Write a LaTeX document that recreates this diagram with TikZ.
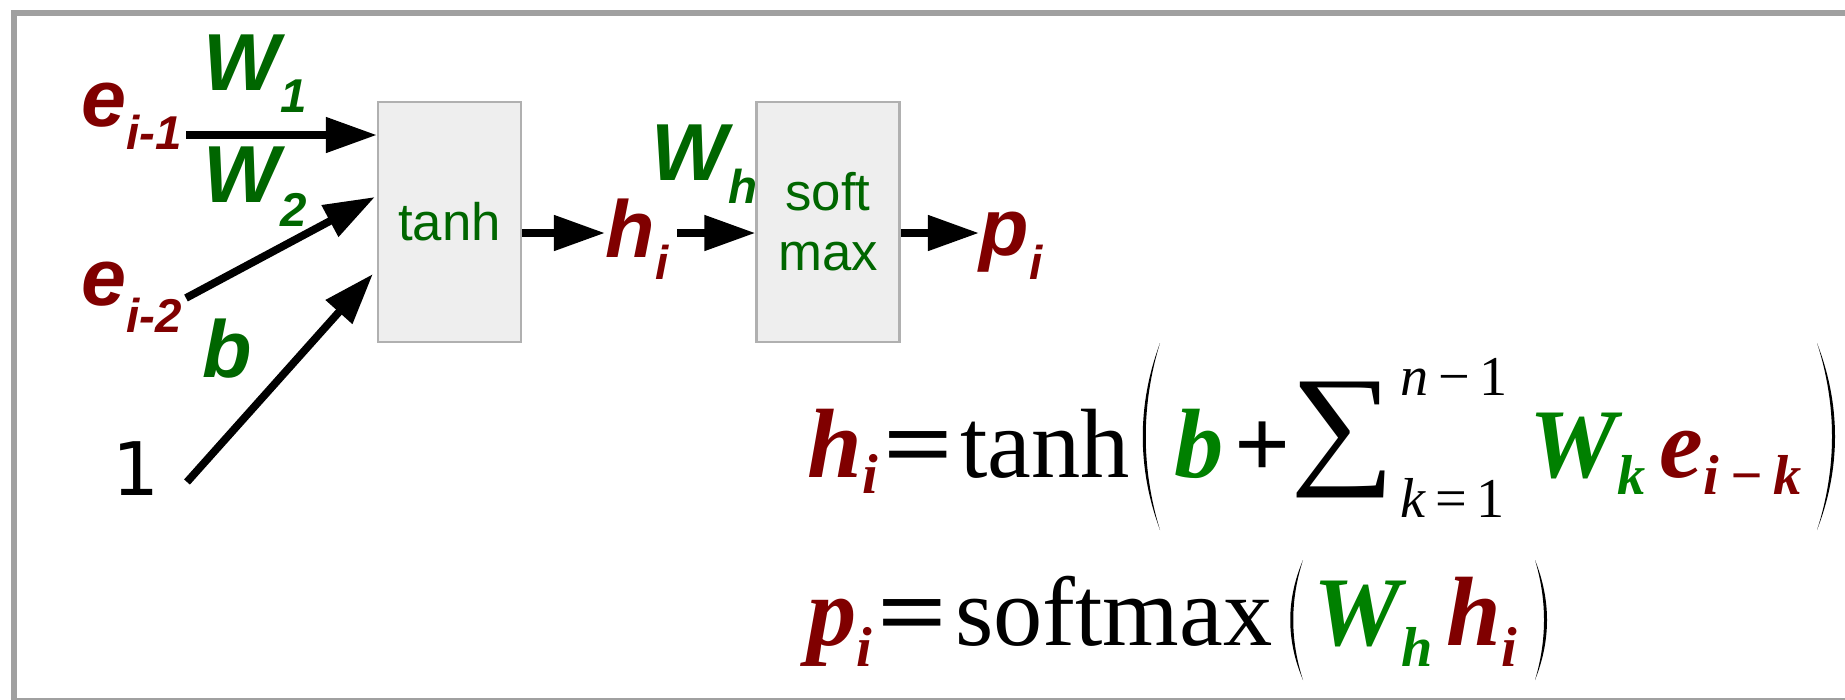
\documentclass[tikz,border=0pt]{standalone}
\usepackage{fontspec}
\usepackage{graphicx}
\setmainfont{Liberation Sans}
\newfontfamily\eqfont{Liberation Serif}
\newfontfamily\onefont{DejaVu Sans}
\usetikzlibrary{arrows.meta, calc}
\definecolor{ered}{HTML}{800000}
\definecolor{wgreen}{HTML}{006600}
\definecolor{mgreen}{HTML}{008000}
\definecolor{boxfill}{HTML}{EEEEEE}
\definecolor{boxline}{HTML}{B0B0B0}
\definecolor{framegray}{HTML}{A0A0A0}
\newcommand{\lo}[2]{\raisebox{-#1}{\fontsize{13.5}{13.5}\selectfont #2}}
\newcommand{\ebf}[2]{\textcolor{#1}{\bfseries\itshape #2}}
\newcommand{\esub}[2]{\raisebox{-#1}{\fontsize{16}{16}\selectfont #2}}
\newcommand{\eqsign}{\hspace{1.5pt}\scalebox{1.25}[1]{\bfseries =}\hspace{2pt}}
\tikzset{
    block/.style={rectangle, draw=boxline, fill=boxfill, line width=0.6pt,
                  minimum width=1.43cm, minimum height=2.4cm, inner sep=0pt,
                  align=center, text=wgreen, font=\fontsize{15}{17}\selectfont},
    var/.style={inner sep=0pt, anchor=base west, text=ered,
                font=\fontsize{23}{23}\selectfont\bfseries\itshape},
    weight/.style={var, text=wgreen},
    flow/.style={-{Triangle[length=5.1mm, width=3.4mm]}, line width=2.2pt},
    eq/.style={inner sep=0pt, anchor=base west,
               font=\eqfont\fontsize{28}{33}\selectfont},
    lim/.style={eq, font=\eqfont\fontsize{16}{16}\selectfont},
    paren/.style={fill=black},
    frame/.style={draw=framegray, line width=1.7pt}
}

\begin{document}
\begin{tikzpicture}[x=0.01cm, y=-0.01cm]
    \useasboundingbox (0,0) rectangle (1845,699);
    \draw[frame] (14,13) rectangle (1900,701);

    \node[block] (tanh) at (449.5,222) {tanh};
    \node[block] (smax) at (828,222) {soft\\max};

    \node[var] (ei1) at (81,126) {e\lo{6.8pt}{i-1}};
    \node[var] (ei2) at (81,305) {e\lo{7.7pt}{i-2}};
    \node[inner sep=0pt, anchor=base west, font=\onefont\fontsize{21}{21}\selectfont] (one) at (112,495) {1};
    \node[weight] (w1) at (203,90) {W\lo{6.5pt}{1}};
    \node[weight] (w2) at (203,202) {W\lo{7.1pt}{2}};
    \node[weight] (bias) at (202,377) {b};
    \node[var] (hi) at (605,257) {h\lo{6.5pt}{i}};
    \node[weight] (wh) at (651,180) {W\lo{6.8pt}{h}};
    \node[var] (pi) at (979,255) {p\lo{7pt}{i}};

    \coordinate (axis) at (0,233);
    \coordinate (s1) at (186,135);
    \coordinate (s2) at (186,298);
    \coordinate (s3) at (187,482);
    \coordinate (s5) at (677,233);
    \draw[flow] (s1) -- (tanh.west |- s1);
    \draw[flow] (s2) -- ($(tanh.west)+(-2,-25)$);
    \draw[flow] (s3) -- ($(tanh.west)+(-4,52)$);
    \draw[flow] (tanh.east |- axis) -- (hi.west |- axis);
    \draw[flow] (s5) -- (smax.west |- axis);
    \draw[flow] (smax.east |- axis) -- (pi.west |- axis);

    \node[eq] (hdef) at (807,477) {\ebf{ered}{h\esub{4.6pt}{i}}\eqsign tanh};
    \node[eq] (bplus) at (1174,477) {\ebf{mgreen}{b}\hspace{3pt}\textbf{+}};
    \node[eq, font=\eqfont\fontsize{38}{38}\selectfont] (sigma) at (1290,477) {\raisebox{2pt}{\scalebox{1.1}[1]{∑}}};
    \node[lim] (upper) at (1400,395) {\textit{n}\,−\,1};
    \node[lim] (lower) at (1400,517) {\textit{k}\,=\,1};
    \node[eq] (wke) at (1529,477) {\ebf{mgreen}{W\esub{5pt}{k}}\hspace{4pt}\ebf{ered}{e\esub{5pt}{i\hspace{3pt}−\hspace{3pt}k}}};
    \fill[paren] (1160,343) .. controls (1137,405) and (1137,468) .. (1160,530)
        .. controls (1141,468) and (1141,405) .. (1160,343) -- cycle;
    \fill[paren] (1817,343) .. controls (1841,405) and (1841,468) .. (1817,530)
        .. controls (1837,468) and (1837,405) .. (1817,343) -- cycle;

    \node[eq] (pdef) at (807,645) {\ebf{ered}{p\esub{6pt}{i}}\eqsign softmax};
    \node[eq] (whh) at (1313,645) {\ebf{mgreen}{W\esub{6pt}{h}}\hspace{4pt}\ebf{ered}{h\esub{6pt}{i}}};
    \fill[paren] (1303,560) .. controls (1286,600) and (1286,640) .. (1303,680)
        .. controls (1290,640) and (1290,600) .. (1303,560) -- cycle;
    \fill[paren] (1535,560) .. controls (1551,600) and (1551,640) .. (1535,680)
        .. controls (1547,640) and (1547,600) .. (1535,560) -- cycle;
\end{tikzpicture}
\end{document}
